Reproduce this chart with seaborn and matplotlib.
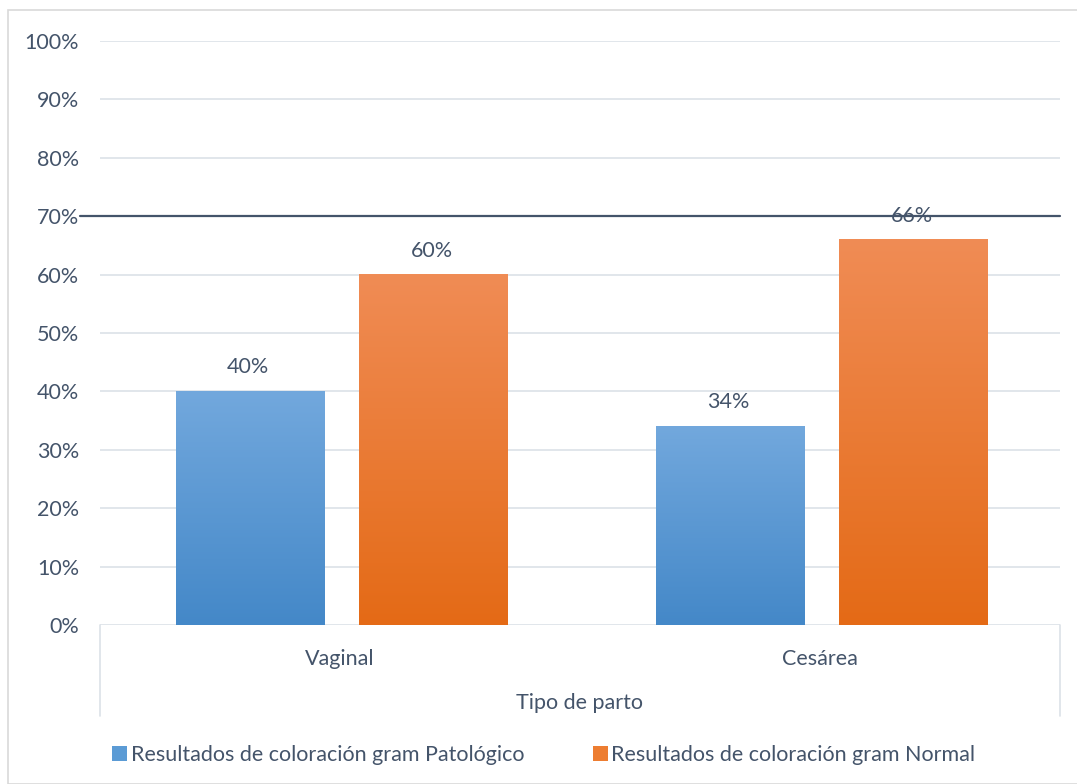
import numpy as np
import pandas as pd
import seaborn as sns
import matplotlib.pyplot as plt
from matplotlib.patches import Patch, Rectangle
from matplotlib.lines import Line2D
from matplotlib.colors import LinearSegmentedColormap, to_hex

# data
categories = ["Vaginal", "Cesárea"]
series = ["Resultados de coloración gram Patológico", "Resultados de coloración gram Normal"]
patologico = [40, 34]
normal = [60, 66]
y_ticks = [0, 10, 20, 30, 40, 50, 60, 70, 80, 90, 100]

data = pd.DataFrame({
    "Tipo de parto": categories * 2,
    "serie": [series[0]] * 2 + [series[1]] * 2,
    "valor": patologico + normal,
})

sns.set_style("white")
plt.rcParams["font.family"] = ["Lato", "DejaVu Sans"]
txt = "#44546A"
grid = "#DCE1E8"
fs = 15.5

W, H = 1077, 784
fig = plt.figure(figsize=(W / 100, H / 100), dpi=100)
ax = fig.add_axes([100 / W, 1 - 625 / H, 960 / W, 584 / H])

colors = {series[0]: "#5B9BD5", series[1]: "#ED7D31"}
sns.barplot(data=data, x="Tipo de parto", y="valor", hue="serie", palette=colors,
            saturation=1, width=0.765, gap=0.19, legend=False, ax=ax, zorder=3)

# Excel-like vertical gradient on each bar
grads = {
    "#5b9bd5": LinearSegmentedColormap.from_list("b", ["#4488C8", "#72A8DD"]),
    "#ed7d31": LinearSegmentedColormap.from_list("o", ["#E46A16", "#F08C55"]),
}
ramp = np.linspace(0, 1, 256).reshape(-1, 1)
for bar in ax.patches:
    x0, w, h = bar.get_x(), bar.get_width(), bar.get_height()
    cmap = grads[to_hex(bar.get_facecolor())]
    im = ax.imshow(ramp, cmap=cmap, origin="lower", aspect="auto",
                   extent=(x0 + 0.004, x0 + w + 0.004, 0, h), zorder=4)
    im.set_clip_on(True)
    ax.text(x0 + w / 2, h + 2.4, f"{h:.0f}%", ha="center", va="bottom",
            fontsize=fs, color=txt, zorder=6)
    bar.set_visible(False)

ax.set_xlim(-0.5, 1.5)
ax.set_ylim(0, 100)
ax.set_yticks(y_ticks)
ax.set_yticklabels([f"{v}%" for v in y_ticks])
for v in y_ticks:
    if v == 70:
        ax.axhline(v, xmin=-0.021, xmax=1, color=txt, lw=1.6, zorder=5, clip_on=False)
    else:
        ax.axhline(v, color=grid, lw=1.2, zorder=1)
for s in ax.spines.values():
    s.set_visible(False)
ax.tick_params(axis="both", length=0, labelsize=fs, colors=txt)
ax.tick_params(axis="y", pad=15)
ax.tick_params(axis="x", pad=17)
ax.set_xlabel("Tipo de parto", fontsize=fs, color=txt)
ax.xaxis.set_label_coords(0.5, -(703 - 625) / 584)
ax.xaxis.label.set_va("center")
ax.set_ylabel("")

# category table lines below the axis
for xp in (100, 1060):
    fig.add_artist(Line2D([xp / W, xp / W], [1 - 625 / H, 1 - 716 / H], color=grid, lw=1.2))

# outer border
fig.add_artist(Rectangle((8 / W, 0), 1, 1 - 10 / H, transform=fig.transFigure,
                         fill=False, edgecolor="#D9D9D9", lw=1.2))

handles = [Patch(facecolor=colors[s], edgecolor="none", label=s) for s in series]
fig.legend(handles=handles, loc="center left", bbox_to_anchor=(93 / W, 1 - 755 / H),
           ncol=2, frameon=False, fontsize=fs, labelcolor=txt, handlelength=0.7,
           handleheight=0.7, handletextpad=0.15, columnspacing=3.2)

fig.savefig("out.png", dpi=100)
